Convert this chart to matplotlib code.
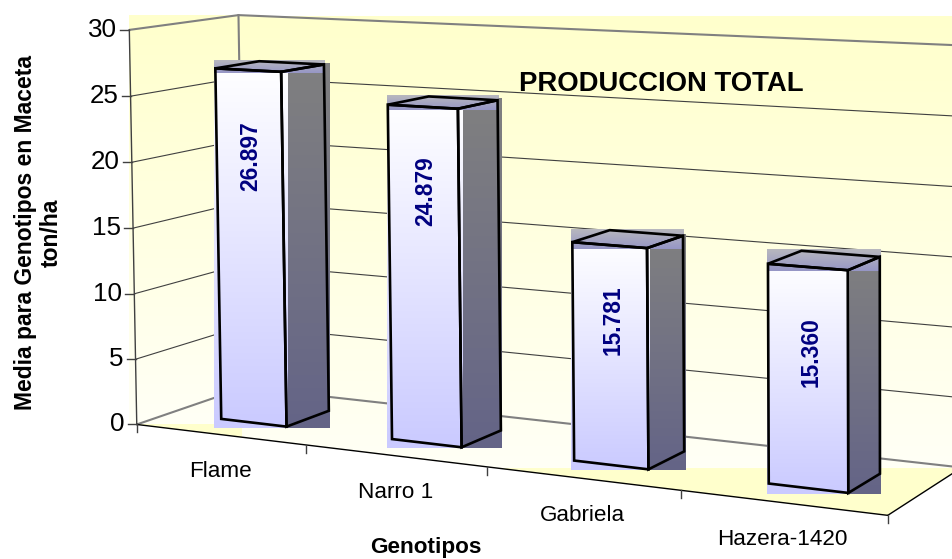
import numpy as np
from matplotlib import pyplot as plt
from matplotlib.patches import Polygon, Rectangle

plt.rcParams['font.family'] = ['Liberation Sans', 'DejaVu Sans']

genotipos = ['Flame', 'Narro 1', 'Gabriela', 'Hazera-1420']
media = [26.897, 24.879, 15.781, 15.360]
value_labels = ['26.897', '24.879', '15.781', '15.360']
y_ticks = [0, 5, 10, 15, 20, 25, 30]

# perspective of the box: (category, depth, value) -> pixel, fitted on its frame
frame_3d = [(0, 0, 0), (0, 0, 5), (0, 0, 10), (0, 0, 15), (0, 0, 20), (0, 0, 25), (0, 0, 30),
            (1, 0, 0), (2, 0, 0), (3, 0, 0), (4, 0, 0),
            (0, 1, 0), (0, 1, 30), (4, 1, 0), (4, 1, 30)]
frame_px = [(138, 424), (136, 359), (134, 294), (133, 228), (131, 162.5), (130, 96), (129, 30),
            (307, 445), (487, 467), (680, 490), (888, 516),
            (243, 388), (240, 15), (962, 467), (962, 45.5)]


def fit_projection(src, dst):
    rows, rhs = [], []
    for (a, b, c), (x, y) in zip(src, dst):
        rows.append([a, b, c, 1, 0, 0, 0, 0, -x*a, -x*b, -x*c])
        rows.append([0, 0, 0, 0, a, b, c, 1, -y*a, -y*b, -y*c])
        rhs += [x, y]
    p = np.linalg.lstsq(np.array(rows, float), np.array(rhs, float), rcond=None)[0]
    return np.append(p, 1).reshape(3, 4)


M = fit_projection(frame_3d, frame_px)


def proj(t, z, v):
    x, y, w = M @ np.array([t, z, v, 1.0])
    return x/w, y/w


def gradient(ax, x0, x1, y0, y1, c0, c1, zorder, clip=None):
    ramp = np.linspace(0, 1, 256)[:, None, None]
    img = (np.array(c0) + ramp*(np.array(c1) - np.array(c0)))/255
    im = ax.imshow(img, extent=[x0, x1, y1, y0], aspect='auto', interpolation='bilinear', zorder=zorder)
    if clip is not None:
        im.set_clip_path(clip)
    return im


def poly_box(ax, pts, c0, c1, zorder, pad=1):
    xs, ys = zip(*pts)
    gradient(ax, min(xs)-pad, max(xs)+pad, min(ys)-pad, max(ys)+pad, c0, c1, zorder)


def line3d(ax, a, b, **kw):
    pa, pb = proj(*a), proj(*b)
    ax.plot([pa[0], pb[0]], [pa[1], pb[1]], solid_capstyle='round', **kw)


fig = plt.figure(figsize=(9.53, 5.59), dpi=100)
ax = fig.add_axes([0, 0, 1, 1])

yellow = (255, 255, 204)
pale = (255, 255, 246)
fl, bl, br, fr = proj(0, 0, 0), proj(0, 1, 0), proj(4, 1, 0), proj(4, 0, 0)
top_y = 16
floor_split = 468
corner_x = bl[0] - 3

# walls and floor
floor_poly = Polygon([fl, bl, br, fr], transform=ax.transData, fc='none', ec='none')
ax.add_patch(floor_poly)
cut = Polygon([(fl[0], top_y), (953, top_y), (953, 472), fr, fl], transform=ax.transData, fc='none', ec='none')
ax.add_patch(cut)
gradient(ax, corner_x, 953, top_y, floor_split, yellow, pale, 1, clip=cut)
gradient(ax, proj(0, 0, 30)[0], corner_x, top_y, fl[1], yellow, pale, 1)
for x0, y0, x1, y1 in [(fl[0], fl[1], corner_x, fr[1]), (corner_x, floor_split, 953, fr[1])]:
    r = Rectangle((x0, y0), x1-x0, y1-y0, fc=np.array(yellow)/255, ec='none', zorder=1.5)
    ax.add_patch(r)
    r.set_clip_path(floor_poly)

# grid on the walls
for v in y_ticks[1:-1]:
    line3d(ax, (0, 0, v), (0, 1, v), color='#404040', lw=0.8, zorder=2)
    line3d(ax, (0, 1, v), (4, 1, v), color='#404040', lw=0.8, zorder=2)
gray = '#808080'
line3d(ax, (0, 0, 30), (0, 1, 30), color=gray, lw=1.5, zorder=2)
line3d(ax, (0, 1, 30), (4, 1, 30), color=gray, lw=1.5, zorder=2)
line3d(ax, (0, 1, 0), (0, 1, 30), color=gray, lw=1.5, zorder=2)
line3d(ax, (0, 0, 0), (0, 1, 0), color=gray, lw=1.5, zorder=2)
line3d(ax, (0, 1, 0), (4, 1, 0), color=gray, lw=1.5, zorder=2)
line3d(ax, (0, 0, 0), (0, 0, 30), color='#404040', lw=1.0, zorder=2.5)
line3d(ax, (0, 0, 0), (4, 0, 0), color='black', lw=1.0, zorder=2.5)
line3d(ax, (4, 0, 0), (4, 1, 0), color='black', lw=1.0, zorder=2.5)

# axis ticks and labels
for v in y_ticks:
    x, y = proj(0, 0, v)
    ax.plot([x-9, x], [y, y], color='#404040', lw=1.0, zorder=2.5)
    ax.text(x-12, y, str(v), ha='right', va='center', fontsize=18.7, color='black')
for i in range(len(genotipos)+1):
    x, y = proj(i, 0, 0)
    ax.plot([x, x], [y, y+8], color='#404040', lw=1.0, zorder=2.5)
for i, name in enumerate(genotipos):
    x, y = proj(i+0.5, 0, 0)
    ax.text(x, y+37, name, ha='center', va='center', fontsize=16.2, color='black')

# bars
t0, t1, z0, z1 = 0.31, 0.70, 0.30, 0.71
label_drop = [86, 84, 75, 85]
for i, val in enumerate(media):
    fb_l, fb_r = proj(i+t0, z0, 0), proj(i+t1, z0, 0)
    bb_r, bb_l = proj(i+t1, z1, 0), proj(i+t0, z1, 0)
    ft_l, ft_r = proj(i+t0, z0, val), proj(i+t1, z0, val)
    bt_r, bt_l = proj(i+t1, z1, val), proj(i+t0, z1, val)
    front = [fb_l, fb_r, ft_r, ft_l]
    side = [fb_r, bb_r, bt_r, ft_r]
    top = [ft_l, ft_r, bt_r, bt_l]
    poly_box(ax, side, (128, 128, 128), (100, 100, 135), 3)
    poly_box(ax, front, (255, 255, 255), (202, 202, 255), 3.1)
    poly_box(ax, top, (184, 184, 190), (150, 150, 198), 3.2)
    for pts in (front, side, top):
        ax.add_patch(Polygon(pts, closed=True, fc='none', ec='black', lw=1.9, joinstyle='miter', zorder=4))
    tx = (ft_l[0] + ft_r[0])/2
    ty = (ft_l[1] + ft_r[1])/2
    ax.text(tx+3, ty+label_drop[i], value_labels[i], rotation=90, ha='center', va='center', fontsize=16.4,
            fontweight='bold', color='#000080', zorder=5)

ax.text(661, 84, 'PRODUCCION TOTAL', ha='center', va='center', fontsize=19.8, fontweight='bold', zorder=5)
ax.text(426, 548, 'Genotipos', ha='center', va='center', fontsize=16.2, fontweight='bold')
ax.text(38.5, 233, 'Media para Genotipos en Maceta\nton/ha', rotation=90, ha='center', va='center',
        multialignment='center', fontsize=16.5, fontweight='bold', linespacing=1.15)

ax.set_xlim(0, 953)
ax.set_ylim(559, 0)
ax.axis('off')
fig.savefig('out.png', dpi=100)
